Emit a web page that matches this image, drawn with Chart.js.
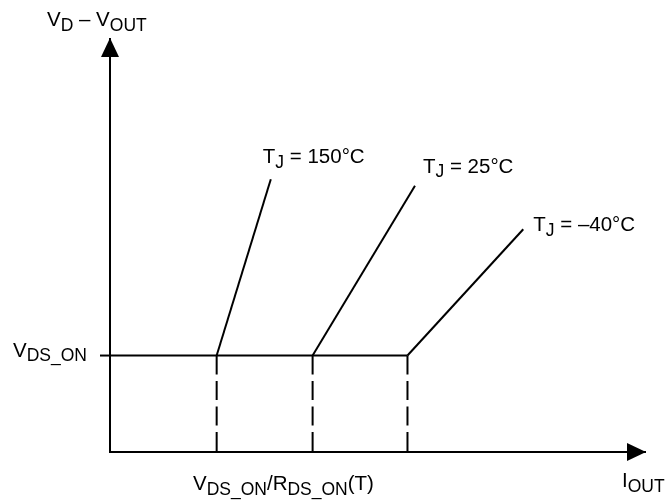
<!DOCTYPE html>
<html lang="en">
<head>
    <meta charset="UTF-8">
    <title>VDS_ON vs IOUT</title>
    <style>
        html, body {
            margin: 0;
            padding: 0;
            background: #fff;
        }
        #chart-container {
            width: 665px;
            height: 504px;
        }
    </style>
    <script src="https://cdn.jsdelivr.net/npm/chart.js"></script>
</head>
<body>
    <div id="chart-container">
        <canvas id="vdsChart" width="665" height="504"></canvas>
    </div>

    <script>
        // data (arbitrary units, schematic)
        const tempLabels = ['150°C', '25°C', '–40°C'];
        const kneeCurrent = [1.99, 3.78, 5.55];   // I where each curve leaves VDS_ON
        const topCurrent = [3.00, 5.69, 7.71];    // end of each sloped line
        const topVoltage = [6.59, 6.43, 5.38];
        const vdsOn = 2.33;
        const axisMax = 10;

        const FONT = '"Liberation Sans", Arial, Helvetica, sans-serif';
        const MAIN_SIZE = 20.5;
        const SUB_SIZE = 17.5;

        // label offsets (px) from the top of each sloped line
        const labelOffsets = [[-8, -16], [8, -13], [10, 2]];

        // draw text made of [text, isSub] runs
        function drawRich(ctx, x, y, runs) {
            ctx.textBaseline = 'alphabetic';
            ctx.textAlign = 'left';
            runs.forEach(([txt, sub]) => {
                ctx.font = (sub ? SUB_SIZE : MAIN_SIZE) + 'px ' + FONT;
                ctx.fillText(txt, x, sub ? y + 4.5 : y);
                x += ctx.measureText(txt).width;
            });
        }

        const annotations = {
            id: 'annotations',
            afterDatasetsDraw(chart) {
                const ctx = chart.ctx;
                const xs = chart.scales.x;
                const ys = chart.scales.y;
                const x0 = xs.getPixelForValue(0);
                const y0 = ys.getPixelForValue(0);
                const xTip = xs.getPixelForValue(axisMax);
                const yTip = ys.getPixelForValue(axisMax);
                ctx.save();
                ctx.fillStyle = '#000';
                ctx.strokeStyle = '#000';

                // axis arrows
                ctx.beginPath();
                ctx.moveTo(x0, yTip);
                ctx.lineTo(x0 - 9, yTip + 19);
                ctx.lineTo(x0 + 9, yTip + 19);
                ctx.closePath();
                ctx.fill();
                ctx.beginPath();
                ctx.moveTo(xTip, y0);
                ctx.lineTo(xTip - 19, y0 - 9);
                ctx.lineTo(xTip - 19, y0 + 9);
                ctx.closePath();
                ctx.fill();

                // VDS_ON tick
                const yOn = ys.getPixelForValue(vdsOn);
                ctx.lineWidth = 2;
                ctx.beginPath();
                ctx.moveTo(x0 - 10, yOn);
                ctx.lineTo(x0, yOn);
                ctx.stroke();

                // axis labels
                drawRich(ctx, 47, 26, [['V', false], ['D', true], [' – ', false], ['V', false], ['OUT', true]]);
                drawRich(ctx, 13, yOn + 1, [['V', false], ['DS_ON', true]]);
                drawRich(ctx, 193, 490, [['V', false], ['DS_ON', true], ['/', false], ['R', false], ['DS_ON', true], ['(T)', false]]);
                drawRich(ctx, xTip - 24, 487, [['I', false], ['OUT', true]]);

                // temperature labels
                tempLabels.forEach((t, i) => {
                    const px = xs.getPixelForValue(topCurrent[i]) + labelOffsets[i][0];
                    const py = ys.getPixelForValue(topVoltage[i]) + labelOffsets[i][1];
                    drawRich(ctx, px, py, [['T', false], ['J', true], [' = ' + t, false]]);
                });
                ctx.restore();
            }
        };

        const datasets = [];
        // axes
        datasets.push({
            data: [{ x: 0, y: axisMax }, { x: 0, y: 0 }, { x: axisMax, y: 0 }],
            borderColor: '#000',
            borderWidth: 2,
            borderJoinStyle: 'miter'
        });
        // flat VDS_ON segment
        datasets.push({
            data: [{ x: 0, y: vdsOn }, { x: kneeCurrent[2], y: vdsOn }],
            borderColor: '#000',
            borderWidth: 2
        });
        tempLabels.forEach((t, i) => {
            datasets.push({
                data: [{ x: kneeCurrent[i], y: vdsOn }, { x: topCurrent[i], y: topVoltage[i] }],
                borderColor: '#000',
                borderWidth: 2
            });
            datasets.push({
                data: [{ x: kneeCurrent[i], y: vdsOn }, { x: kneeCurrent[i], y: 0 }],
                borderColor: '#000',
                borderWidth: 2,
                borderDash: [19, 6.5]
            });
        });

        new Chart(document.getElementById('vdsChart').getContext('2d'), {
            type: 'line',
            data: { datasets: datasets },
            options: {
                responsive: false,
                animation: false,
                devicePixelRatio: 1,
                layout: { padding: { left: 110, right: 19, top: 38, bottom: 52 } },
                elements: { point: { radius: 0, hoverRadius: 0 }, line: { tension: 0 } },
                datasets: { line: { clip: false } },
                scales: {
                    x: { type: 'linear', display: false, min: 0, max: axisMax },
                    y: { type: 'linear', display: false, min: 0, max: axisMax }
                },
                plugins: {
                    legend: { display: false },
                    tooltip: { enabled: false }
                },
                events: []
            },
            plugins: [annotations]
        });
    </script>
</body>
</html>
